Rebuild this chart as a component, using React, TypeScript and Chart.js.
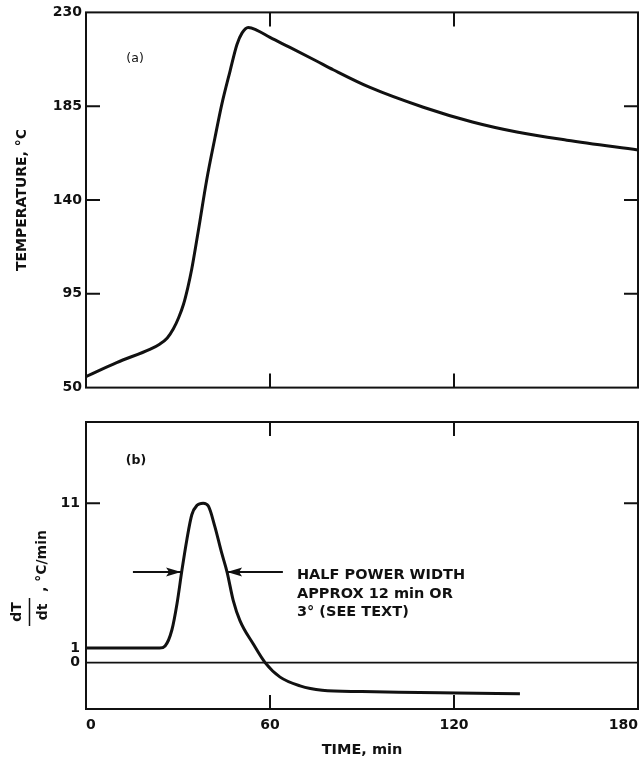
import React, { useEffect, useRef } from "react";
import { Chart, registerables } from "chart.js";
Chart.register(...registerables);

const FONT = "'DejaVu Sans', sans-serif";
const INK = "#111111";

// ---- shared x axis (TIME, min)
const xTicks = [0, 60, 120, 180];
const xInnerTicks = [60, 120];

// ---- panel (a): temperature
const timeA = [0, 10, 21, 24, 26.5, 28.5, 30.2, 31.8, 33.2, 34.5, 36.6, 39.4, 42, 44.3, 47, 49.2, 50.9, 52.9, 55.8, 60, 66.5, 75, 80.6, 92.6, 110, 126, 140.5, 156.8, 180];
const tempA = [55.3, 62, 68.5, 70.8, 73.8, 78.2, 83.5, 90, 98, 107, 125, 150, 169.5, 186, 202, 214.5, 220.2, 222.8, 221.4, 218, 213.2, 206.8, 202.5, 194, 184.5, 177.4, 172.6, 168.7, 164];
const yTicksA = [50, 95, 140, 185, 230];
const yInnerA = [95, 140, 185];

// ---- panel (b): dT/dt
const timeB = [0, 24, 25.8, 28, 29.7, 31.3, 32.9, 34.5, 36.2, 38.2, 39.9, 42, 44.2, 46, 48, 50.2, 54.5, 58.4, 63.3, 69.8, 77, 90, 102, 121, 141.5];
const rateB = [1, 1, 1.15, 2.25, 4.1, 6.4, 8.5, 10.2, 10.85, 11, 10.8, 9.4, 7.6, 6.25, 4.3, 2.9, 1.3, 0, -1, -1.6, -1.9, -2.0, -2.05, -2.1, -2.15];
const zeroX = [0, 180];
const zeroY = [0, 0];
const yTicksB = [0, 1, 11];
const yInnerB = [11];

// annotation
const arrowLevel = 6.25;
const arrowLeftX = [15.3, 31];
const arrowRightX = [64.2, 46];
const noteLines = ["HALF POWER WIDTH", "APPROX 12 min OR", "3° (SEE TEXT)"];
const noteX = 68.8;
const noteY = 6.0;

const tickFont = { family: FONT, size: 14, weight: "bold" as const };

function framePlugin(yInner: number[]) {
  return {
    id: "frame",
    afterDatasetsDraw(chart: any) {
      const { ctx, chartArea: a, scales } = chart;
      ctx.save();
      ctx.strokeStyle = INK;
      ctx.lineWidth = 2;
      ctx.strokeRect(a.left, a.top, a.right - a.left, a.bottom - a.top);
      const L = 14;
      ctx.beginPath();
      for (const v of xInnerTicks) {
        const px = scales.x.getPixelForValue(v);
        ctx.moveTo(px, a.top);
        ctx.lineTo(px, a.top + L);
        ctx.moveTo(px, a.bottom);
        ctx.lineTo(px, a.bottom - L);
      }
      for (const v of yInner) {
        const py = scales.y.getPixelForValue(v);
        ctx.moveTo(a.left, py);
        ctx.lineTo(a.left + L, py);
        ctx.moveTo(a.right, py);
        ctx.lineTo(a.right - L, py);
      }
      ctx.stroke();
      ctx.restore();
    },
  };
}

function textPlugin(label: string, lx: number, ly: number, size: number, weight: string) {
  return {
    id: "panelLabel" + label,
    afterDraw(chart: any) {
      const { ctx, scales } = chart;
      ctx.save();
      ctx.fillStyle = INK;
      ctx.font = `${weight} ${size}px ${FONT}`;
      ctx.textAlign = "center";
      ctx.textBaseline = "middle";
      ctx.fillText(label, scales.x.getPixelForValue(lx), scales.y.getPixelForValue(ly));
      ctx.restore();
    },
  };
}

function drawArrow(ctx: CanvasRenderingContext2D, x0: number, x1: number, y: number) {
  ctx.beginPath();
  ctx.moveTo(x0, y);
  ctx.lineTo(x1, y);
  ctx.stroke();
  const dir = Math.sign(x1 - x0);
  ctx.beginPath();
  ctx.moveTo(x1, y);
  ctx.lineTo(x1 - dir * 15, y - 4.5);
  ctx.lineTo(x1 - dir * 12, y);
  ctx.lineTo(x1 - dir * 15, y + 4.5);
  ctx.closePath();
  ctx.fill();
}

const annotationPlugin = {
  id: "annot",
  afterDraw(chart: any) {
    const { ctx, scales } = chart;
    const sx = scales.x, sy = scales.y;
    ctx.save();
    ctx.strokeStyle = INK;
    ctx.fillStyle = INK;
    ctx.lineWidth = 2;
    const ay = sy.getPixelForValue(arrowLevel);
    drawArrow(ctx, sx.getPixelForValue(arrowLeftX[0]), sx.getPixelForValue(arrowLeftX[1]), ay);
    drawArrow(ctx, sx.getPixelForValue(arrowRightX[0]), sx.getPixelForValue(arrowRightX[1]), ay);
    ctx.font = `bold 14.5px ${FONT}`;
    ctx.textAlign = "left";
    ctx.textBaseline = "middle";
    const tx = sx.getPixelForValue(noteX);
    const ty = sy.getPixelForValue(noteY);
    noteLines.forEach((s, i) => ctx.fillText(s, tx, ty + i * 18.5));

    // y axis title: dT/dt , °C/min (rotated)
    ctx.rotate(-Math.PI / 2);
    const fc = -212; // fraction centre (canvas y)
    ctx.textAlign = "center";
    ctx.font = `bold 14px ${FONT}`;
    ctx.fillText("dT", fc, 17);
    ctx.fillText("dt", fc, 43);
    ctx.lineWidth = 1.5;
    ctx.beginPath();
    ctx.moveTo(fc - 14, 29.5);
    ctx.lineTo(fc + 14, 29.5);
    ctx.stroke();
    ctx.textAlign = "left";
    ctx.fillText(", °C/min", fc + 20, 42);
    ctx.restore();
  },
};

export default function App() {
  const refA = useRef<HTMLCanvasElement>(null);
  const refB = useRef<HTMLCanvasElement>(null);

  useEffect(() => {
    const chartA = new Chart(refA.current!, {
      type: "line",
      data: {
        datasets: [
          {
            data: timeA.map((t, i) => ({ x: t, y: tempA[i] })),
            borderColor: INK,
            borderWidth: 3,
            pointRadius: 0,
            cubicInterpolationMode: "monotone",
            fill: false,
          },
        ],
      },
      options: {
        animation: false,
        responsive: false,
        events: [],
        layout: { padding: { top: 12, right: 4, bottom: 12, left: 0 } },
        plugins: { legend: { display: false }, tooltip: { enabled: false } },
        scales: {
          x: { type: "linear", min: 0, max: 180, display: false },
          y: {
            type: "linear",
            min: 50,
            max: 230,
            afterBuildTicks: (s: any) => {
              s.ticks = yTicksA.map((v) => ({ value: v }));
            },
            afterFit: (s: any) => {
              s.width = 86;
            },
            grid: { display: false, drawTicks: false },
            border: { display: false },
            ticks: { padding: 4, color: INK, font: tickFont },
            title: {
              display: true,
              text: "TEMPERATURE, °C",
              color: INK,
              font: { family: FONT, size: 14, weight: "bold" },
              padding: { top: 13.5, bottom: 0 },
            },
          },
        },
      } as any,
      plugins: [framePlugin(yInnerA), textPlugin("(a)", 16, 208, 12.5, "normal")],
    });

    const chartB = new Chart(refB.current!, {
      type: "line",
      data: {
        datasets: [
          {
            data: timeB.map((t, i) => ({ x: t, y: rateB[i] })),
            borderColor: INK,
            borderWidth: 3,
            pointRadius: 0,
            cubicInterpolationMode: "monotone",
            fill: false,
          },
          {
            data: zeroX.map((t, i) => ({ x: t, y: zeroY[i] })),
            borderColor: INK,
            borderWidth: 1.6,
            pointRadius: 0,
            fill: false,
          },
        ],
      },
      options: {
        animation: false,
        responsive: false,
        events: [],
        layout: { padding: { top: 22, right: 4, bottom: 0, left: 0 } },
        plugins: { legend: { display: false }, tooltip: { enabled: false } },
        scales: {
          x: {
            type: "linear",
            min: 0,
            max: 180,
            afterBuildTicks: (s: any) => {
              s.ticks = xTicks.map((v) => ({ value: v }));
            },
            afterFit: (s: any) => {
              s.height = 55;
              s.paddingLeft = 0;
              s.paddingRight = 0;
            },
            grid: { display: false, drawTicks: false },
            border: { display: false },
            ticks: { padding: 8, color: INK, font: tickFont, align: "inner", maxRotation: 0 },
            title: {
              display: true,
              text: "TIME, min",
              color: INK,
              font: { family: FONT, size: 14.5, weight: "bold" },
              padding: { top: 0, bottom: 5.3 },
            },
          },
          y: {
            type: "linear",
            min: -3.2,
            max: 16.6,
            afterBuildTicks: (s: any) => {
              s.ticks = yTicksB.map((v) => ({ value: v }));
            },
            afterFit: (s: any) => {
              s.width = 86;
            },
            grid: { display: false, drawTicks: false },
            border: { display: false },
            ticks: { padding: 6, color: INK, font: tickFont },
          },
        },
      } as any,
      plugins: [framePlugin(yInnerB), textPlugin("(b)", 16.3, 13.9, 12.5, "bold"), annotationPlugin],
    });

    return () => {
      chartA.destroy();
      chartB.destroy();
    };
  }, []);

  return (
    <div style={{ position: "absolute", left: 0, top: 0, width: 642, height: 764, background: "#fff" }}>
      <canvas ref={refA} width={642} height={400} style={{ position: "absolute", left: 0, top: 0, display: "block" }} />
      <canvas ref={refB} width={642} height={364} style={{ position: "absolute", left: 0, top: 400, display: "block" }} />
    </div>
  );
}
